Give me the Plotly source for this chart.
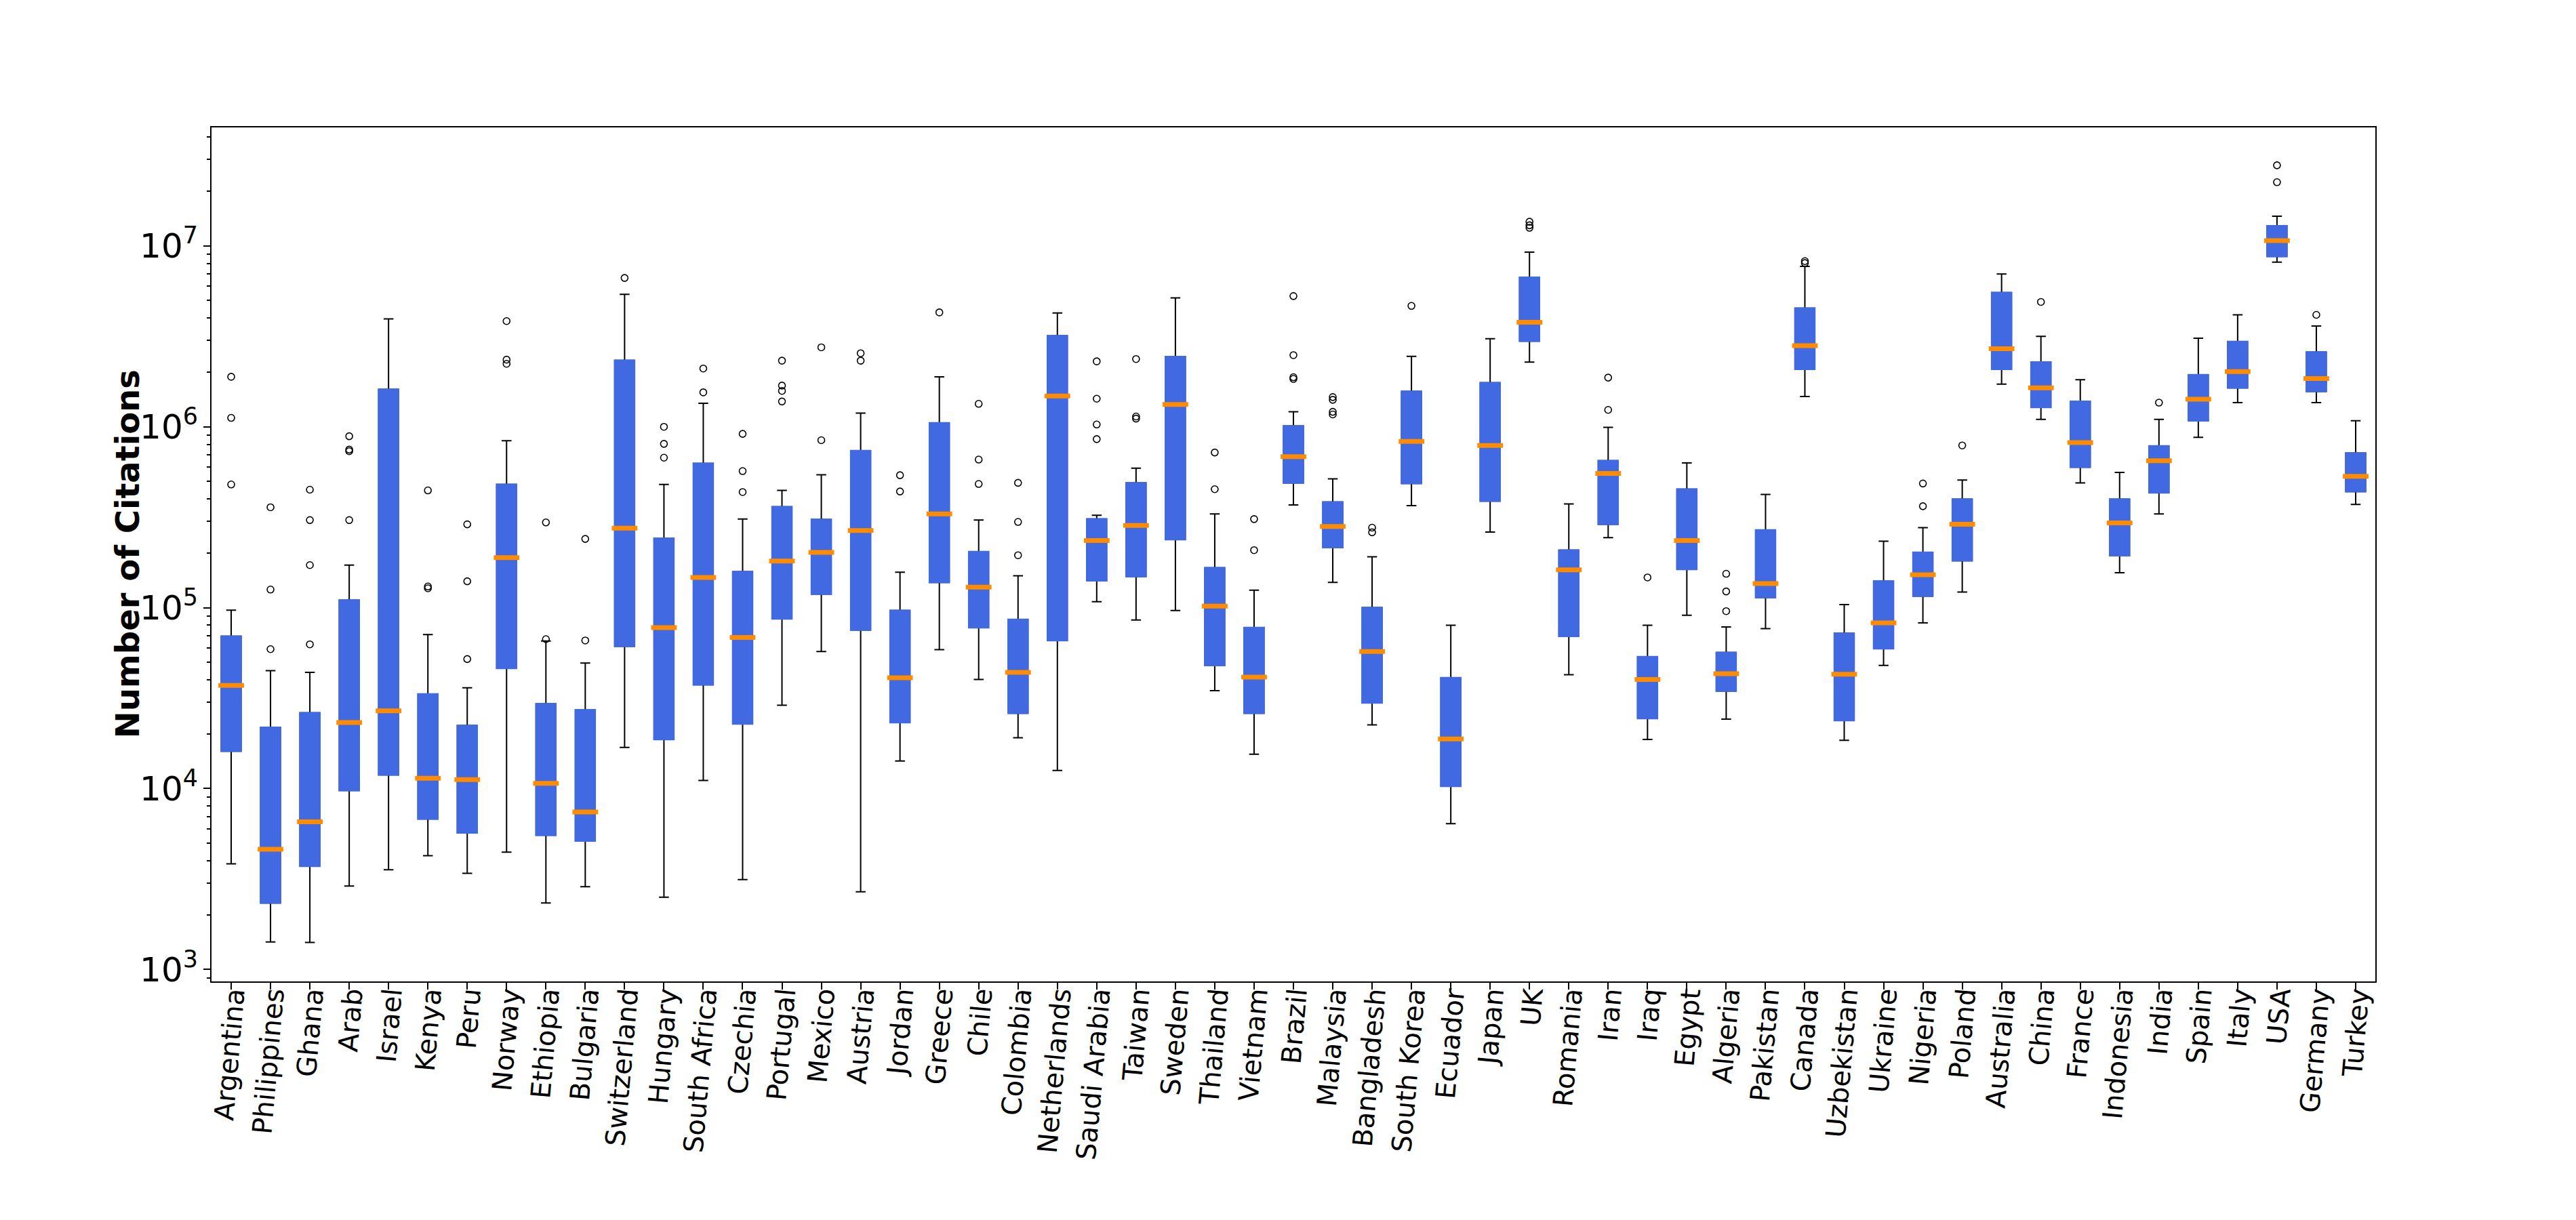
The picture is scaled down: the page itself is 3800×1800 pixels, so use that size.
"""
Box plot of citations per country (log scale), stats read from the reference picture.
"""

import plotly.graph_objects as go

countries = ["Argentina", "Philippines", "Ghana", "Arab", "Israel", "Kenya", "Peru", "Norway",
             "Ethiopia", "Bulgaria", "Switzerland", "Hungary", "South Africa", "Czechia",
             "Portugal", "Mexico", "Austria", "Jordan", "Greece", "Chile", "Colombia",
             "Netherlands", "Saudi Arabia", "Taiwan", "Sweden", "Thailand", "Vietnam",
             "Brazil", "Malaysia", "Bangladesh", "South Korea", "Ecuador", "Japan", "UK",
             "Romania", "Iran", "Iraq", "Egypt", "Algeria", "Pakistan", "Canada",
             "Uzbekistan", "Ukraine", "Nigeria", "Poland", "Australia", "China", "France",
             "Indonesia", "India", "Spain", "Italy", "USA", "Germany", "Turkey"]

# whisker ends (min / max inside 1.5 IQR)
whisker_low = [3.84e3, 1.42e3, 1.41e3, 2.89e3, 3.56e3, 4.26e3, 3.40e3, 4.45e3,
               2.33e3, 2.87e3, 1.69e4, 2.51e3, 1.11e4, 3.14e3,
               2.89e4, 5.73e4, 2.69e3, 1.42e4, 5.86e4, 4.01e4, 1.91e4,
               1.26e4, 1.08e5, 8.55e4, 9.64e4, 3.48e4, 1.55e4,
               3.70e5, 1.38e5, 2.25e4, 3.67e5, 6.40e3, 2.62e5, 2.28e6,
               4.26e4, 2.44e5, 1.87e4, 9.08e4, 2.42e4, 7.66e4, 1.47e6,
               1.85e4, 4.80e4, 8.24e4, 1.22e5, 1.72e6, 1.10e6, 4.90e5,
               1.56e5, 3.30e5, 8.75e5, 1.36e6, 8.13e6, 1.36e6, 3.72e5]
q1 = [1.61e4, 2.33e3, 3.72e3, 9.77e3, 1.19e4, 6.79e3, 5.69e3, 4.62e4,
      5.52e3, 5.13e3, 6.12e4, 1.87e4, 3.75e4, 2.28e4,
      8.69e4, 1.19e5, 7.53e4, 2.32e4, 1.38e5, 7.76e4, 2.61e4,
      6.59e4, 1.41e5, 1.49e5, 2.38e5, 4.80e4, 2.61e4,
      4.90e5, 2.15e5, 2.98e4, 4.86e5, 1.03e4, 3.89e5, 2.98e6,
      6.95e4, 2.89e5, 2.44e4, 1.63e5, 3.46e4, 1.14e5, 2.08e6,
      2.38e4, 5.94e4, 1.16e5, 1.82e5, 2.08e6, 1.28e6, 5.98e5,
      1.94e5, 4.32e5, 1.08e6, 1.64e6, 8.75e6, 1.57e6, 4.39e5]
medians = [3.72e4, 4.62e3, 6.55e3, 2.32e4, 2.69e4, 1.14e4, 1.12e4, 1.89e5,
           1.07e4, 7.43e3, 2.75e5, 7.76e4, 1.47e5, 6.84e4,
           1.81e5, 2.02e5, 2.67e5, 4.10e4, 3.30e5, 1.30e5, 4.39e4,
           1.48e6, 2.35e5, 2.85e5, 1.33e6, 1.02e5, 4.13e4,
           6.84e5, 2.81e5, 5.73e4, 8.30e5, 1.88e4, 7.89e5, 3.78e6,
           1.62e5, 5.52e5, 4.01e4, 2.35e5, 4.32e4, 1.36e5, 2.81e6,
           4.29e4, 8.24e4, 1.52e5, 2.89e5, 2.70e6, 1.64e6, 8.18e5,
           2.94e5, 6.50e5, 1.42e6, 2.02e6, 1.07e7, 1.85e6, 5.32e5]
q3 = [6.95e4, 2.18e4, 2.62e4, 1.10e5, 1.61e6, 3.33e4, 2.23e4, 4.80e5,
      2.94e4, 2.72e4, 2.33e6, 2.42e5, 6.27e5, 1.58e5,
      3.61e5, 3.07e5, 7.38e5, 9.64e4, 1.05e6, 2.04e5, 8.61e4,
      3.18e6, 3.09e5, 4.90e5, 2.44e6, 1.66e5, 7.76e4,
      1.01e6, 3.84e5, 1.00e5, 1.57e6, 4.10e4, 1.75e6, 6.70e6,
      2.08e5, 6.50e5, 5.36e4, 4.52e5, 5.65e4, 2.69e5, 4.52e6,
      7.21e4, 1.40e5, 2.02e5, 3.98e5, 5.52e6, 2.28e6, 1.38e6,
      3.98e5, 7.83e5, 1.94e6, 2.96e6, 1.29e7, 2.59e6, 7.16e5]
whisker_high = [9.70e4, 4.49e4, 4.39e4, 1.72e5, 3.95e6, 7.11e4, 3.61e4, 8.38e5,
                6.55e4, 4.94e4, 5.40e6, 4.80e5, 1.35e6, 3.09e5,
                4.45e5, 5.43e5, 1.19e6, 1.57e5, 1.89e6, 3.05e5, 1.50e5,
                4.26e6, 3.24e5, 5.90e5, 5.16e6, 3.30e5, 1.25e5,
                1.21e6, 5.16e5, 1.91e5, 2.45e6, 8.00e4, 3.07e6, 9.23e6,
                3.75e5, 9.93e5, 8.00e4, 6.31e5, 7.83e4, 4.23e5, 7.71e6,
                1.04e5, 2.33e5, 2.77e5, 5.08e5, 7.00e6, 3.16e6, 1.82e6,
                5.60e5, 1.10e6, 3.09e6, 4.16e6, 1.46e7, 3.61e6, 1.08e6]

# fliers
outlier_country = (["Argentina"] * 3 + ["Philippines"] * 3 + ["Ghana"] * 4 + ["Arab"] * 4
                   + ["Kenya"] * 3 + ["Peru"] * 3 + ["Norway"] * 3 + ["Ethiopia"] * 2
                   + ["Bulgaria"] * 2 + ["Switzerland"] + ["Hungary"] * 3 + ["South Africa"] * 2
                   + ["Czechia"] * 3 + ["Portugal"] * 4 + ["Mexico"] * 2 + ["Austria"] * 2
                   + ["Jordan"] * 2 + ["Greece"] + ["Chile"] * 3 + ["Colombia"] * 3
                   + ["Saudi Arabia"] * 4 + ["Taiwan"] * 3 + ["Thailand"] * 2 + ["Vietnam"] * 2
                   + ["Brazil"] * 4 + ["Malaysia"] * 4 + ["Bangladesh"] * 2 + ["South Korea"]
                   + ["UK"] * 3 + ["Iran"] * 2 + ["Iraq"] + ["Algeria"] * 3 + ["Canada"] * 2
                   + ["Nigeria"] * 2 + ["Poland"] + ["China"] + ["India"] + ["USA"] * 2
                   + ["Germany"])
outlier_value = [1.89e6, 1.12e6, 4.80e5,
                 3.59e5, 1.26e5, 5.90e4,
                 4.49e5, 3.05e5, 1.72e5, 6.27e4,
                 8.87e5, 7.48e5, 7.33e5, 3.05e5,
                 4.45e5, 1.31e5, 1.28e5,
                 2.89e5, 1.40e5, 5.20e4,
                 3.84e6, 2.35e6, 2.23e6,
                 2.96e5, 6.70e4,
                 2.40e5, 6.59e4,
                 6.65e6,
                 1.00e6, 8.05e5, 6.75e5,
                 2.10e6, 1.55e6,
                 9.14e5, 5.69e5, 4.36e5,
                 2.32e6, 1.69e6, 1.58e6, 1.38e6,
                 2.75e6, 8.43e5,
                 2.55e6, 2.32e6,
                 5.40e5, 4.39e5,
                 4.29e6,
                 1.34e6, 6.59e5, 4.83e5,
                 4.90e5, 2.98e5, 1.95e5,
                 2.30e6, 1.43e6, 1.03e6, 8.55e5,
                 2.37e6, 1.14e6, 1.11e6,
                 7.21e5, 4.52e5,
                 3.09e5, 2.08e5,
                 5.28e6, 2.49e6, 1.88e6, 1.84e6,
                 1.46e6, 1.41e6, 1.21e6, 1.17e6,
                 2.77e5, 2.61e5,
                 4.66e6,
                 1.36e7, 1.30e7, 1.26e7,
                 1.87e6, 1.24e6,
                 1.47e5,
                 1.54e5, 1.23e5, 9.57e4,
                 8.24e6, 8.04e6,
                 4.86e5, 3.64e5,
                 7.89e5,
                 4.90e6,
                 1.36e6,
                 2.79e7, 2.25e7,
                 4.16e6]

BOX_BLUE = "royalblue"
MEDIAN_ORANGE = "darkorange"
FONT = "DejaVu Sans"

fig = go.Figure()

# whiskers + caps (black), box part gets covered by the blue box below
fig.add_trace(go.Box(
    x=countries, q1=q1, median=medians, q3=q3,
    lowerfence=whisker_low, upperfence=whisker_high,
    width=0.5, whiskerwidth=0.5,
    line={"color": "black", "width": 2},
    fillcolor="rgba(0,0,0,0)",
    hoverinfo="skip",
))
# blue box body
fig.add_trace(go.Box(
    x=countries, q1=q1, median=medians, q3=q3,
    lowerfence=q1, upperfence=q3,
    width=0.5, whiskerwidth=0,
    line={"color": BOX_BLUE, "width": 2.5},
    fillcolor=BOX_BLUE,
))
# orange median bars
fig.add_trace(go.Scatter(
    x=countries, y=medians, mode="markers",
    marker={"symbol": "line-ew", "size": 27,
            "line": {"color": MEDIAN_ORANGE, "width": 7}},
))
# outliers
fig.add_trace(go.Scatter(
    x=outlier_country, y=outlier_value, mode="markers",
    marker={"symbol": "circle-open", "size": 10, "color": "black",
            "line": {"color": "black", "width": 1.6}},
))

fig.update_layout(
    width=3800,
    height=1800,
    margin={"l": 304, "r": 304, "t": 180, "b": 360, "pad": 0},
    paper_bgcolor="white",
    plot_bgcolor="white",
    showlegend=False,
    boxmode="overlay",
    font={"family": FONT, "color": "black"},
    xaxis={
        "type": "category",
        "categoryorder": "array",
        "categoryarray": countries,
        "range": [-0.5, len(countries) - 0.5],
        "tickangle": -85,
        "tickfont": {"size": 40, "family": FONT},
        "ticklabelstandoff": -30,
        "ticks": "outside", "ticklen": 10, "tickwidth": 2, "tickcolor": "black",
        "showline": True, "linecolor": "black", "linewidth": 2, "mirror": True,
        "showgrid": False, "zeroline": False,
    },
    yaxis={
        "type": "log",
        "range": [2.934, 7.655],
        "dtick": 1,
        "exponentformat": "power",
        "tickfont": {"size": 40, "family": FONT},
        "ticks": "outside", "ticklen": 10, "tickwidth": 2, "tickcolor": "black",
        "minor": {"ticks": "outside", "ticklen": 5, "tickwidth": 1.5,
                  "tickcolor": "black", "dtick": "D1", "showgrid": False},
        "showline": True, "linecolor": "black", "linewidth": 2, "mirror": True,
        "showgrid": False, "zeroline": False,
    },
    annotations=[{
        "text": "<b>Number of Citations</b>",
        "xref": "paper", "yref": "paper",
        "x": -0.039, "y": 0.5,
        "xanchor": "center", "yanchor": "middle",
        "textangle": -90, "showarrow": False,
        "font": {"size": 48, "family": FONT, "color": "black"},
    }],
)

fig.write_html("out.html")
